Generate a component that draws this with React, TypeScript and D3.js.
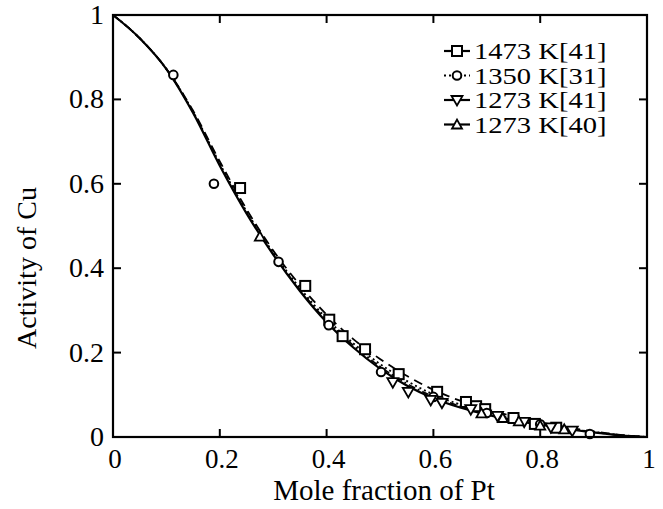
import React from "react";
import * as d3 from "d3";

const W = 663;
const H = 509;

// tick values
const xTicks = [0, 0.2, 0.4, 0.6, 0.8, 1];
const yTicks = [0, 0.2, 0.4, 0.6, 0.8, 1];
const xTickLabels = ["0", "0.2", "0.4", "0.6", "0.8", "1"];
const yTickLabels = ["0", "0.2", "0.4", "0.6", "0.8", "1"];

// calculated curves (mole fraction of Pt -> activity of Cu)
const curveX = [0, 0.05, 0.1, 0.15, 0.2, 0.25, 0.3, 0.35, 0.4, 0.45, 0.5, 0.55, 0.6, 0.65, 0.7, 0.75, 0.8, 0.85, 0.9, 0.95, 1];
const curveSolid = [1, 0.945, 0.872, 0.768, 0.643, 0.53, 0.432, 0.346, 0.272, 0.212, 0.162, 0.122, 0.092, 0.07, 0.053, 0.04, 0.029, 0.019, 0.011, 0.004, 0];
const curveDashed = [1, 0.945, 0.872, 0.773, 0.653, 0.54, 0.442, 0.36, 0.29, 0.232, 0.185, 0.145, 0.112, 0.086, 0.066, 0.049, 0.035, 0.023, 0.013, 0.005, 0];
const curveDotted = [1, 0.945, 0.872, 0.771, 0.648, 0.535, 0.437, 0.353, 0.281, 0.222, 0.173, 0.133, 0.101, 0.077, 0.058, 0.043, 0.031, 0.021, 0.012, 0.0045, 0];
const curveDashDot = [1, 0.945, 0.872, 0.769, 0.645, 0.532, 0.434, 0.349, 0.276, 0.217, 0.167, 0.127, 0.096, 0.073, 0.055, 0.041, 0.03, 0.02, 0.0115, 0.0042, 0];

// experimental points
const sq1473 = [[0.238, 0.59], [0.36, 0.358], [0.405, 0.278], [0.43, 0.239], [0.472, 0.208], [0.535, 0.149], [0.607, 0.107], [0.661, 0.083], [0.68, 0.073], [0.697, 0.066], [0.75, 0.045], [0.79, 0.031], [0.83, 0.022]];
const ci1350 = [[0.113, 0.858], [0.189, 0.6], [0.31, 0.415], [0.404, 0.265], [0.502, 0.154], [0.6, 0.095], [0.7, 0.057], [0.8, 0.03], [0.893, 0.007]];
const dn1273a = [[0.524, 0.13], [0.553, 0.107], [0.595, 0.088], [0.616, 0.081], [0.67, 0.066], [0.72, 0.05], [0.77, 0.036], [0.82, 0.023], [0.86, 0.015]];
const up1273b = [[0.275, 0.475], [0.69, 0.056], [0.73, 0.045], [0.76, 0.037], [0.8, 0.027], [0.845, 0.018]];

const legendLabels = ["1473 K[41]", "1350 K[31]", "1273 K[41]", "1273 K[40]"];

const FONT = "'Liberation Serif', 'Times New Roman', serif";

const M = { left: 113, right: 647, top: 15, bottom: 437 };

function Marker({ type, x, y }: { type: string; x: number; y: number }) {
  const s = 5;
  if (type === "square")
    return <rect x={x - s} y={y - s} width={2 * s} height={2 * s} fill="white" stroke="black" strokeWidth={2} />;
  if (type === "circle")
    return <circle cx={x} cy={y} r={4.3} fill="white" stroke="black" strokeWidth={2} />;
  if (type === "down")
    return <path d={`M${x - 5.5},${y - 4} L${x + 5.5},${y - 4} L${x},${y + 5.5} Z`} fill="white" stroke="black" strokeWidth={1.8} />;
  return <path d={`M${x - s},${y + 4} L${x + s},${y + 4} L${x},${y - 5} Z`} fill="white" stroke="black" strokeWidth={1.8} />;
}

export default function App() {
  const x = d3.scaleLinear().domain([0, 1]).range([M.left, M.right]);
  const y = d3.scaleLinear().domain([0, 1]).range([M.bottom, M.top]);
  const line = d3
    .line<number>()
    .x((_, i) => x(curveX[i]))
    .y((d) => y(d))
    .curve(d3.curveMonotoneX);

  const curves = [
    { data: curveDashed, dash: "9,6", w: 1.8 },
    { data: curveDotted, dash: "2,3", w: 1.8 },
    { data: curveDashDot, dash: "7,3,2,3", w: 1.6 },
    { data: curveSolid, dash: undefined, w: 2.2 },
  ];

  const series = [
    { pts: sq1473, type: "square" },
    { pts: ci1350, type: "circle" },
    { pts: dn1273a, type: "down" },
    { pts: up1273b, type: "up" },
  ];
  const legendDash = [undefined, "2,3", undefined, undefined];

  const tickLen = 8;
  const lx = 457;
  const ly0 = 51;
  const lstep = 24.5;
  return (
    <svg width={W} height={H} style={{ position: "absolute", left: 0, top: 0, background: "white" }}>
      <rect x={0} y={0} width={W} height={H} fill="white" />
      {curves.map((c, i) => (
        <path key={i} d={line(c.data) || ""} fill="none" stroke="black" strokeWidth={c.w} strokeDasharray={c.dash} />
      ))}
      {series.map((s, si) =>
        s.pts.map((p, i) => <Marker key={`${si}-${i}`} type={s.type} x={x(p[0])} y={y(p[1])} />)
      )}
      {/* frame */}
      <rect x={M.left} y={M.top} width={M.right - M.left} height={M.bottom - M.top} fill="none" stroke="black" strokeWidth={2.2} />
      {xTicks.map((t, i) => (
        <g key={`xt${i}`}>
          <line x1={x(t)} x2={x(t)} y1={M.bottom} y2={M.bottom - tickLen} stroke="black" strokeWidth={2} />
          <line x1={x(t)} x2={x(t)} y1={M.top} y2={M.top + tickLen} stroke="black" strokeWidth={2} />
          <text x={x(t) + 2} y={M.bottom + 31} textAnchor="middle" fontFamily={FONT} fontSize={27}>
            {xTickLabels[i]}
          </text>
        </g>
      ))}
      {yTicks.map((t, i) => (
        <g key={`yt${i}`}>
          <line x1={M.left} x2={M.left + tickLen} y1={y(t)} y2={y(t)} stroke="black" strokeWidth={2} />
          <line x1={M.right} x2={M.right - tickLen} y1={y(t)} y2={y(t)} stroke="black" strokeWidth={2} />
          <text x={M.left - 9} y={y(t) + 9} textAnchor="end" fontFamily={FONT} fontSize={28}>
            {yTickLabels[i]}
          </text>
        </g>
      ))}
      <text x={(M.left + M.right) / 2 + 4} y={500} textAnchor="middle" fontFamily={FONT} fontSize={29}>
        Mole fraction of Pt
      </text>
      <text transform={`translate(36,${268}) rotate(-90)`} textAnchor="middle" fontFamily={FONT} fontSize={28}>
        Activity of Cu
      </text>
      {legendLabels.map((lab, i) => {
        const ly = ly0 + i * lstep;
        return (
          <g key={`lg${i}`}>
            <line x1={lx - 13} x2={lx + 13} y1={ly} y2={ly} stroke="black" strokeWidth={2.2} strokeDasharray={legendDash[i]} />
            <Marker type={series[i].type} x={lx} y={ly} />
            <text transform={`translate(${lx + 17},${ly + 8}) scale(1.27,1)`} fontFamily={FONT} fontSize={22.5}>
              {lab}
            </text>
          </g>
        );
      })}
    </svg>
  );
}
